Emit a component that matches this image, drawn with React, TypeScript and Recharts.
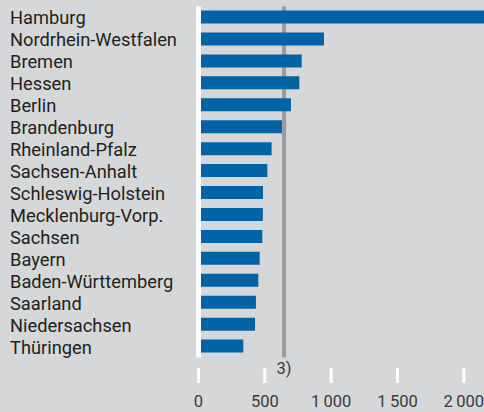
import { BarChart, Bar, XAxis, YAxis, ReferenceLine } from 'recharts';

const states = [
  'Hamburg',
  'Nordrhein-Westfalen',
  'Bremen',
  'Hessen',
  'Berlin',
  'Brandenburg',
  'Rheinland-Pfalz',
  'Sachsen-Anhalt',
  'Schleswig-Holstein',
  'Mecklenburg-Vorp.',
  'Sachsen',
  'Bayern',
  'Baden-Württemberg',
  'Saarland',
  'Niedersachsen',
  'Thüringen',
];
const values = [2300, 946, 778, 760, 697, 629, 551, 519, 486, 485, 481, 461, 451, 433, 426, 338];
const xTicks = [0, 500, 1000, 1500, 2000];
const average = 645;

const data = states.map((name, i) => ({ name, value: values[i] }));

const FONT = 'Roboto, "Noto Sans", sans-serif';

function StateTick(props: any) {
  const { y, payload } = props;
  return (
    <text x={10} y={y} dy={7} fontFamily={FONT} fontSize={18.3} fill="#231f20" textAnchor="start">
      {payload.value}
    </text>
  );
}

function ValueTick(props: any) {
  const { x, y, payload } = props;
  const label = payload.value >= 1000 ? String(payload.value).replace(/(\d)(\d{3})$/, '$1\u2009$2') : String(payload.value);
  return (
    <g>
      <line x1={x} x2={x} y1={y + 10.5} y2={y + 25.5} stroke="#ffffff" strokeWidth={3} />
      <text x={x} y={y + 49} fontFamily={FONT} fontSize={16.5} fill="#3a3a3a" textAnchor="middle">
        {label}
      </text>
    </g>
  );
}

export default function App() {
  return (
    <div style={{ position: 'absolute', left: 0, top: 0, width: 484, height: 412, background: '#d6d7d9', overflow: 'hidden' }}>
      <BarChart
        width={484}
        height={412}
        data={data}
        layout="vertical"
        margin={{ top: 6.5, right: 0, bottom: 0, left: 0 }}
        barSize={13}
      >
        <ReferenceLine
          x={average}
          stroke="#9a9b9d"
          strokeWidth={4}
          zIndex={50}
          label={{ value: '3)', position: 'bottom', offset: 5, fill: '#3a3a3a', fontSize: 16.5, fontFamily: FONT }}
        />
        <Bar dataKey="value" fill="#0063a6" isAnimationActive={false} />
        <XAxis
          type="number"
          domain={[0, 2152]}
          allowDataOverflow
          ticks={xTicks}
          axisLine={false}
          tickLine={false}
          tickSize={0}
          tickMargin={0}
          height={54.5}
          tick={<ValueTick />}
          interval={0}
        />
        <YAxis
          type="category"
          dataKey="name"
          width={198.5}
          axisLine={{ stroke: '#ffffff', strokeWidth: 5 }}
          tickLine={false}
          tick={<StateTick />}
          interval={0}
        />
      </BarChart>
    </div>
  );
}
